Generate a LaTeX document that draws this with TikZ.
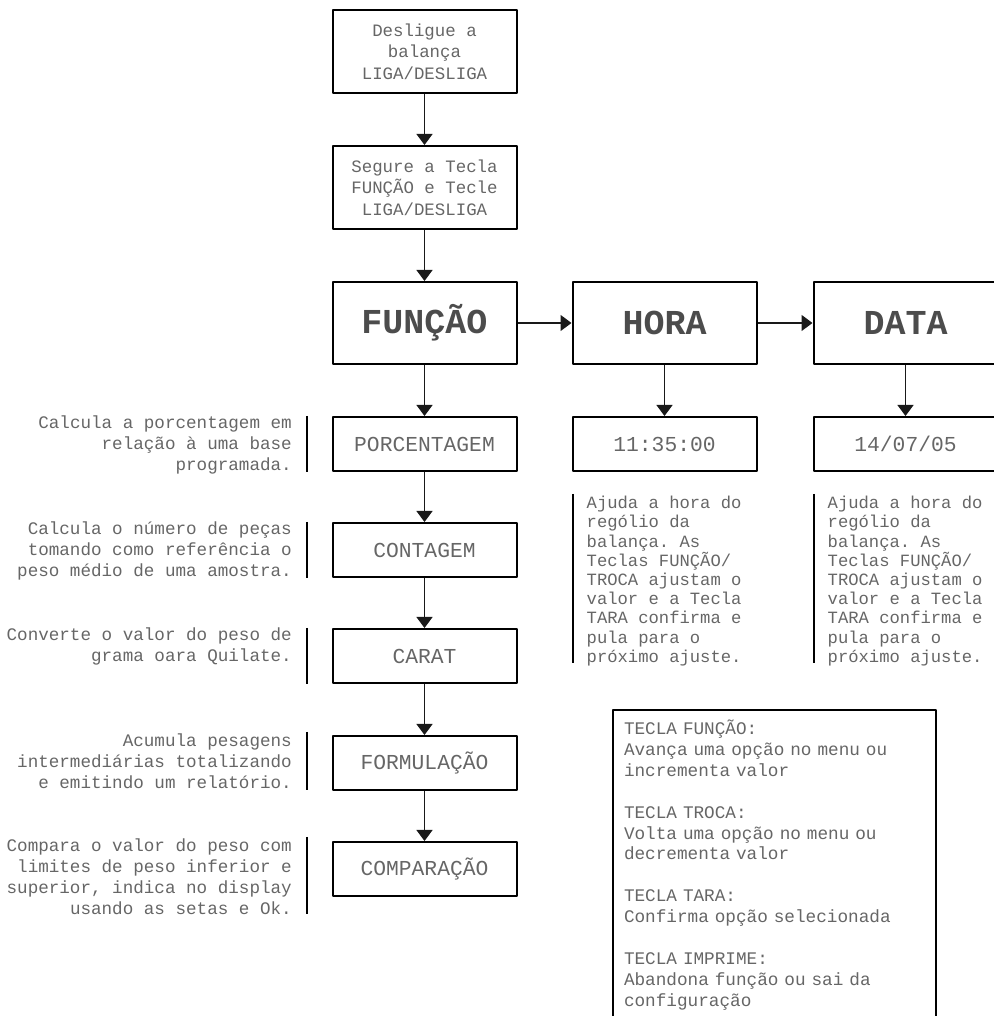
\documentclass[tikz,border=0pt]{standalone}
\usepackage{fontspec}
\setmonofont{Liberation Mono}
\usetikzlibrary{arrows.meta}
\definecolor{strokecol}{rgb}{0.0,0.0,0.0}
\definecolor{edgecol}{rgb}{0.1,0.1,0.1}
\definecolor{textcol}{rgb}{0.4,0.4,0.4}
\definecolor{headcol}{rgb}{0.3,0.3,0.3}
\tikzset{
  stepbox/.style={draw=strokecol,line width=2bp,minimum width=184bp,minimum height=83bp,
    inner sep=0pt,align=center,text=textcol,font=\ttfamily\fontsize{17.4bp}{21.5bp}\selectfont},
  headbox/.style={stepbox,minimum height=82bp,text=headcol,
    font=\ttfamily\bfseries\fontsize{35bp}{40bp}\selectfont},
  modebox/.style={stepbox,minimum height=54bp,font=\ttfamily\fontsize{21.3bp}{25bp}\selectfont},
  leftnote/.style={inner sep=0pt,align=right,text=textcol,anchor=north east,
    font=\ttfamily\fontsize{17.6bp}{20.8bp}\selectfont},
  rightnote/.style={inner sep=0pt,align=left,text=textcol,anchor=north west,
    font=\ttfamily\fontsize{17.2bp}{19.2bp}\selectfont},
  keybox/.style={draw=strokecol,line width=2bp,anchor=north west,inner xsep=11bp,inner ysep=0pt,
    text width=301bp,minimum height=310bp,align=left,text=textcol,
    font=\ttfamily\fontsize{17.7bp}{20.9bp}\selectfont},
  notebar/.style={draw=strokecol,line width=2bp},
  link/.style={draw=edgecol,line width=1.3bp,->}
}
\begin{document}
\begin{tikzpicture}[>={Triangle[length=11bp,width=16bp]},line join=bevel]
\useasboundingbox (0bp,0bp) rectangle (994bp,1016bp);
\clip (0bp,0bp) rectangle (994bp,1016bp);
%%
  % Node: desl
  \node[stepbox] (desl) at (424.5bp,964.5bp) {Desligue a\\balança\\LIGA/DESLIGA};
  % Node: seg
  \node[stepbox] (seg) at (424.5bp,828.5bp) {Segure a Tecla\\FUNÇÃO e Tecle\\LIGA/DESLIGA};
  % Node: funcao
  \node[headbox] (funcao) at (424.5bp,693bp) {FUNÇÃO};
  % Node: hora
  \node[headbox] (hora) at (664.5bp,693bp) {HORA};
  % Node: data
  \node[headbox] (data) at (905.5bp,693bp) {DATA};
  % Node: pct
  \node[modebox] (pct) at (424.5bp,572bp) {PORCENTAGEM};
  % Node: cont
  \node[modebox] (cont) at (424.5bp,466bp) {CONTAGEM};
  % Node: carat
  \node[modebox] (carat) at (424.5bp,360bp) {CARAT};
  % Node: form
  \node[modebox] (form) at (424.5bp,253bp) {FORMULAÇÃO};
  % Node: comp
  \node[modebox] (comp) at (424.5bp,147bp) {COMPARAÇÃO};
  % Node: hrs
  \node[modebox] (hrs) at (664.5bp,572bp) {11:35:00};
  % Node: dt
  \node[modebox] (dt) at (905.5bp,572bp) {14/07/05};
%%
  % Edge: desl -> seg
  \draw[link] (desl) -- (seg);
  % Edge: seg -> funcao
  \draw[link] (seg) -- (funcao);
  % Edge: funcao -> hora
  \draw[link] (funcao) -- (hora);
  % Edge: hora -> data
  \draw[link] (hora) -- (data);
  % Edge: funcao -> pct
  \draw[link] (funcao) -- (pct);
  % Edge: pct -> cont
  \draw[link] (pct) -- (cont);
  % Edge: cont -> carat
  \draw[link] (cont) -- (carat);
  % Edge: carat -> form
  \draw[link] (carat) -- (form);
  % Edge: form -> comp
  \draw[link] (form) -- (comp);
  % Edge: hora -> hrs
  \draw[link] (hora) -- (hrs);
  % Edge: data -> dt
  \draw[link] (data) -- (dt);
%%
  % Notes: left column
  \node[leftnote] (pctnote) at ([xshift=-39.5bp,yshift=0bp]pct.north west)
    {Calcula a porcentagem em\\relação à uma base\\programada.};
  \draw[notebar] ([xshift=-24.5bp]pct.north west) -- ([xshift=-24.5bp]pct.south west);
  \node[leftnote] (contnote) at ([xshift=-39.5bp,yshift=0bp]cont.north west)
    {Calcula o número de peças\\tomando como referência o\\peso médio de uma amostra.};
  \draw[notebar] ([xshift=-24.5bp]cont.north west) -- ([xshift=-24.5bp]cont.south west);
  \node[leftnote] (caratnote) at ([xshift=-39.5bp,yshift=0bp]carat.north west)
    {Converte o valor do peso de\\grama oara Quilate.};
  \draw[notebar] ([xshift=-24.5bp]carat.north west) -- ([xshift=-24.5bp]carat.south west);
  \node[leftnote] (formnote) at ([xshift=-39.5bp,yshift=1bp]form.north west)
    {Acumula pesagens\\intermediárias totalizando\\e emitindo um relatório.};
  \draw[notebar] ([xshift=-24.5bp,yshift=3bp]form.north west) -- ([xshift=-24.5bp,yshift=1bp]form.south west);
  \node[leftnote] (compnote) at ([xshift=-39.5bp,yshift=2bp]comp.north west)
    {Compara o valor do peso com\\limites de peso inferior e\\superior, indica no display\\usando as setas e Ok.};
  \draw[notebar] ([xshift=-24.5bp,yshift=4bp]comp.north west) -- ([xshift=-24.5bp,yshift=-73bp]comp.north west);
  % Notes: right columns
  \node[rightnote] (hrsnote) at ([xshift=15bp,yshift=-24bp]hrs.south west)
    {Ajuda a hora do\\rególio da\\balança. As\\Teclas FUNÇÃO/\\TROCA ajustam o\\valor e a Tecla\\TARA confirma e\\pula para o\\próximo ajuste.};
  \draw[notebar] ([xshift=1bp,yshift=-22bp]hrs.south west) -- ++(0,-169bp);
  \node[rightnote] (dtnote) at ([xshift=15bp,yshift=-24bp]dt.south west)
    {Ajuda a hora do\\rególio da\\balança. As\\Teclas FUNÇÃO/\\TROCA ajustam o\\valor e a Tecla\\TARA confirma e\\pula para o\\próximo ajuste.};
  \draw[notebar] ([xshift=1bp,yshift=-22bp]dt.south west) -- ++(0,-169bp);
  % Node: keys
  \node[keybox] (keys) at (612bp,307bp)
    {TECLA FUNÇÃO:\\Avança uma opção no menu ou\\incrementa valor\\[20.9bp]
     TECLA TROCA:\\Volta uma opção no menu ou\\decrementa valor\\[20.9bp]
     TECLA TARA:\\Confirma opção selecionada\\[20.9bp]
     TECLA IMPRIME:\\Abandona função ou sai da\\configuração};
%
\end{tikzpicture}
\end{document}
